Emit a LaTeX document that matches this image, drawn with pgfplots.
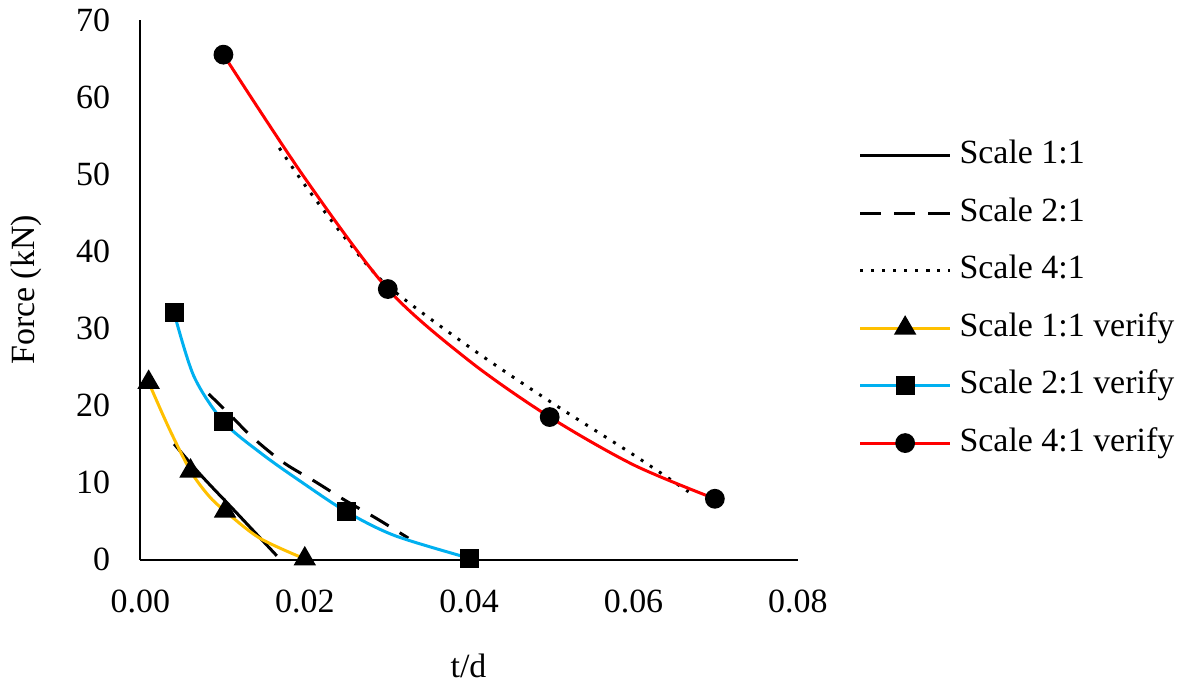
\documentclass[border=0pt]{standalone}
\usepackage{fontspec}
\setmainfont{Liberation Serif}
\usepackage{pgfplots}
\pgfplotsset{compat=1.18}
\definecolor{cgold}{HTML}{FFC000}
\definecolor{ccyan}{HTML}{00B0F0}
\definecolor{cred}{HTML}{FF0000}
\begin{document}
\fontsize{17}{20}\selectfont
\begin{tikzpicture}
\path (0,0) rectangle (590.5pt,344.5pt);
\begin{axis}[
 at={(69pt,64pt)}, anchor=south west,
 scale only axis, width=329.5pt, height=270.5pt,
 xmin=0, xmax=0.08, ymin=0, ymax=70,
 axis x line*=bottom, axis y line*=left,
 axis line style={line width=1pt, -},
 major tick length=0pt,
 xtick={0,0.02,0.04,0.06,0.08},
 xticklabels={0.00,0.02,0.04,0.06,0.08},
 ytick={0,10,20,30,40,50,60,70},
 /pgf/number format/assume math mode=true,
 scaled x ticks=false,
 tick label style={font=\fontsize{17}{20}\selectfont, inner sep=0pt},
 xticklabel style={anchor=center, yshift=-21pt},
 yticklabel style={anchor=east, xshift=-15pt},
 xlabel={t/d}, ylabel={Force (kN)},
 label style={font=\fontsize{17}{20}\selectfont},
 xlabel style={at={(axis description cs:0.499,-0.196)}, anchor=center},
 ylabel style={at={(axis description cs:-0.173,0.5)}, anchor=center},
 legend style={at={(axis description cs:1.0926,0.778)}, anchor=north west, draw=none, fill=none, inner sep=0pt, outer sep=0pt, row sep=12.8pt, column sep=4pt, nodes={inner sep=0pt, text height=12pt, text depth=4pt}, font=\fontsize{17}{20}\selectfont},
 legend cell align=left,
 legend image code/.code={\draw[#1, mark indices={2}] plot coordinates {(0pt,0pt) (22.5pt,0pt) (45pt,0pt)};},
 clip=false,
]
% Scale 1:1
\addplot[black, line width=1.5pt, smooth] coordinates {
 (0.0041,15.0) (0.0075,10.8) (0.0115,6.3) (0.0166,0.5)
};
\addlegendentry{Scale 1:1}
% Scale 2:1
\addplot[black, line width=1.5pt, dash pattern=on 10.5pt off 6.5pt, smooth] coordinates {
 (0.0083,21.5) (0.0108,18.9) (0.0136,15.9) (0.0174,12.6) (0.0213,10.1) (0.0249,7.7) (0.0288,5.3) (0.0326,2.8)
};
\addlegendentry{Scale 2:1}
% Scale 4:1
\addplot[black, line width=1.5pt, dash pattern=on 1.5pt off 4pt, smooth] coordinates {
 (0.0169,53.4) (0.02,48.6) (0.025,41.6) (0.03,35.6) (0.04,27.6) (0.05,20.4) (0.06,13.6) (0.0667,8.8)
};
\addlegendentry{Scale 4:1}
% Scale 1:1 verify
\addplot[cgold, line width=1.5pt, smooth, mark=triangle*, mark size=5pt, mark indices={1,3,5,7}, mark options={solid, fill=black, draw=black}] coordinates {
 (0.001,23.0) (0.0035,17.0) (0.0061,11.5) (0.0083,8.3) (0.0103,6.3) (0.0145,2.8) (0.02,0.1)
};
\addlegendentry{Scale 1:1 verify}
% Scale 2:1 verify
\addplot[ccyan, line width=1.5pt, smooth, mark=square*, mark size=4pt, mark indices={1,3,6,8}, mark options={solid, fill=black, draw=black}] coordinates {
 (0.0041,32.0) (0.0065,23.8) (0.0101,17.9) (0.0148,13.7) (0.0197,10.0) (0.0251,6.2) (0.031,3.1) (0.04,0.2)
};
\addlegendentry{Scale 2:1 verify}
% Scale 4:1 verify
\addplot[cred, line width=1.5pt, smooth, mark=*, mark size=4.2pt, mark indices={1,3,5,7}, mark options={solid, fill=black, draw=black}] coordinates {
 (0.0101,65.5) (0.0200,49.5) (0.0301,35.1) (0.0400,25.8) (0.0498,18.5) (0.0600,12.3) (0.0699,7.9)
};
\addlegendentry{Scale 4:1 verify}
\end{axis}
\end{tikzpicture}
\end{document}
